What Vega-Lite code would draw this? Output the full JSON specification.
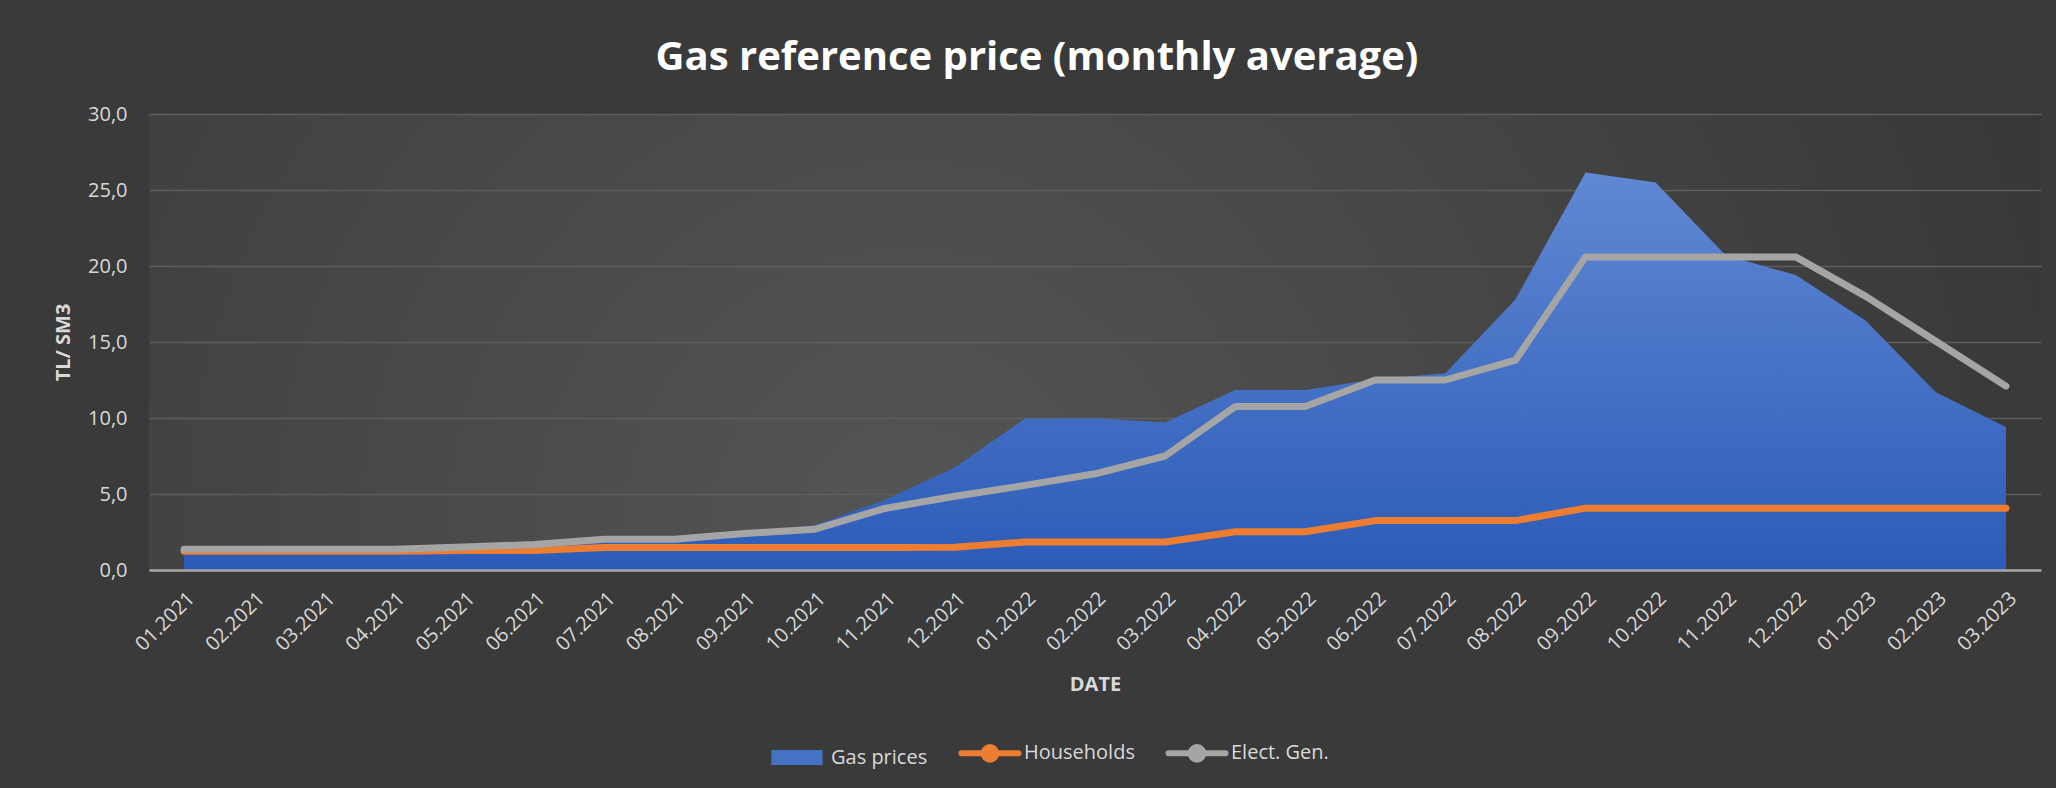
{
  "$schema": "https://vega.github.io/schema/vega-lite/v6.json",
  "width": 1892,
  "height": 456,
  "autosize": {"type": "none"},
  "padding": {"left": 149, "top": 114, "right": 15, "bottom": 218},
  "background": "#3a3a3a",
  "title": {
    "text": "Gas reference price (monthly average)",
    "color": "#ffffff",
    "font": "Open Sans",
    "fontSize": 40,
    "fontWeight": "bold",
    "anchor": "middle",
    "offset": 26,
    "dx": -58
  },
  "config": {
    "view": {
      "stroke": null,
      "fill": {
        "gradient": "radial",
        "x1": 0.4, "y1": 0.6, "r1": 0,
        "x2": 0.4, "y2": 0.6, "r2": 0.8,
        "stops": [
          {"offset": 0, "color": "#555555"},
          {"offset": 1, "color": "#303030"}
        ]
      }
    },
    "font": "Open Sans",
    "legend": {
      "direction": "horizontal",
      "title": null,
      "labelColor": "#d9d9d9",
      "labelFont": "Open Sans",
      "labelFontSize": 20,
      "symbolSize": 3249,
      "columnPadding": 21,
      "labelOffset": 24
    }
  },
  "data": {
    "values": [
      {"month": "01.2021", "gas": 1.37, "households": 1.24, "elect": 1.37},
      {"month": "02.2021", "gas": 1.37, "households": 1.24, "elect": 1.37},
      {"month": "03.2021", "gas": 1.37, "households": 1.24, "elect": 1.37},
      {"month": "04.2021", "gas": 1.37, "households": 1.24, "elect": 1.37},
      {"month": "05.2021", "gas": 1.52, "households": 1.28, "elect": 1.52},
      {"month": "06.2021", "gas": 1.68, "households": 1.28, "elect": 1.68},
      {"month": "07.2021", "gas": 2.03, "households": 1.48, "elect": 2.03},
      {"month": "08.2021", "gas": 2.03, "households": 1.48, "elect": 2.03},
      {"month": "09.2021", "gas": 2.45, "households": 1.48, "elect": 2.4},
      {"month": "10.2021", "gas": 2.95, "households": 1.48, "elect": 2.68},
      {"month": "11.2021", "gas": 4.6, "households": 1.48, "elect": 4.05},
      {"month": "12.2021", "gas": 6.75, "households": 1.5, "elect": 4.85},
      {"month": "01.2022", "gas": 9.95, "households": 1.84, "elect": 5.57},
      {"month": "02.2022", "gas": 9.98, "households": 1.84, "elect": 6.33},
      {"month": "03.2022", "gas": 9.7, "households": 1.84, "elect": 7.5},
      {"month": "04.2022", "gas": 11.85, "households": 2.52, "elect": 10.75},
      {"month": "05.2022", "gas": 11.85, "households": 2.52, "elect": 10.75},
      {"month": "06.2022", "gas": 12.55, "households": 3.25, "elect": 12.5},
      {"month": "07.2022", "gas": 12.95, "households": 3.25, "elect": 12.5},
      {"month": "08.2022", "gas": 17.8, "households": 3.25, "elect": 13.8},
      {"month": "09.2022", "gas": 26.15, "households": 4.07, "elect": 20.6},
      {"month": "10.2022", "gas": 25.5, "households": 4.07, "elect": 20.6},
      {"month": "11.2022", "gas": 20.7, "households": 4.07, "elect": 20.6},
      {"month": "12.2022", "gas": 19.4, "households": 4.07, "elect": 20.6},
      {"month": "01.2023", "gas": 16.4, "households": 4.07, "elect": 18.0},
      {"month": "02.2023", "gas": 11.7, "households": 4.07, "elect": 15.05},
      {"month": "03.2023", "gas": 9.4, "households": 4.07, "elect": 12.1}
    ]
  },
  "encoding": {
    "x": {
      "field": "month",
      "type": "ordinal",
      "sort": null,
      "scale": {"type": "point", "padding": 0.5},
      "axis": {
        "title": "DATE",
        "titleFont": "Open Sans",
        "titleFontSize": 20,
        "titleFontWeight": "bold",
        "titleColor": "#d9d9d9",
        "titlePadding": 20,
        "labelAngle": -45,
        "labelFont": "Open Sans",
        "labelFontSize": 20,
        "labelColor": "#d9d9d9",
        "labelPadding": 18,
        "ticks": false,
        "grid": false,
        "domain": true,
        "domainColor": "#a6a6a6",
        "domainWidth": 2.5,
        "zindex": 1
      }
    }
  },
  "layer": [
    {
      "mark": {
        "type": "area",
        "fill": {
          "gradient": "linear",
          "x1": 0, "y1": 0, "x2": 0, "y2": 1,
          "stops": [
            {"offset": 0, "color": "#6088d3"},
            {"offset": 1, "color": "#2c5cb8"}
          ]
        }
      },
      "encoding": {
        "y": {
          "field": "gas",
          "type": "quantitative",
          "scale": {"domain": [0, 30]},
          "axis": {
            "title": "TL/ SM3",
            "titleFont": "Open Sans",
            "titleFontSize": 20,
            "titleFontWeight": "bold",
            "titleColor": "#d9d9d9",
            "titlePadding": 14,
            "values": [0, 5, 10, 15, 20, 25, 30],
            "labelExpr": "replace(format(datum.value, '.1f'), '.', ',')",
            "labelFont": "Open Sans",
            "labelFontSize": 20,
            "labelColor": "#d9d9d9",
            "labelPadding": 22,
            "ticks": false,
            "domain": false,
            "grid": true,
            "gridColor": "#5e5e5e",
            "gridWidth": 1.5
          }
        }
      }
    },
    {
      "mark": {"type": "line", "strokeWidth": 7, "strokeCap": "round", "strokeJoin": "round"},
      "encoding": {
        "y": {"field": "households", "type": "quantitative"},
        "color": {
          "datum": "Households",
          "scale": {
            "domain": ["Gas prices", "Households", "Elect. Gen."],
            "range": ["#4472c4", "#ed7d31", "#a5a5a5"]
          },
          "legend": {
            "orient": "none",
            "legendX": 638,
            "legendY": 629,
            "direction": "horizontal",
            "symbolSize": 3249,
            "labelOffset": 24,
            "columnPadding": 21,
            "encode": {
              "symbols": {
                "update": {
                  "shape": {"signal": "datum.value === 'Gas prices' ? 'M-0.9,-0.26H0.9V0.26H-0.9Z' : 'M-1,0H-0.22A0.22,0.22 0 1,1 0.22,0A0.22,0.22 0 1,1 -0.22,0M0.22,0H1'"},
                  "fill": {"scale": "color", "field": "value"},
                  "stroke": {"scale": "color", "field": "value"},
                  "strokeWidth": {"signal": "datum.value === 'Gas prices' ? 0 : 6"},
                  "strokeCap": {"value": "round"},
                  "opacity": {"value": 1}
                }
              }
            }
          }
        }
      }
    },
    {
      "mark": {"type": "line", "strokeWidth": 7, "strokeCap": "round", "strokeJoin": "round"},
      "encoding": {
        "y": {"field": "elect", "type": "quantitative"},
        "color": {"datum": "Elect. Gen."}
      }
    }
  ]
}
